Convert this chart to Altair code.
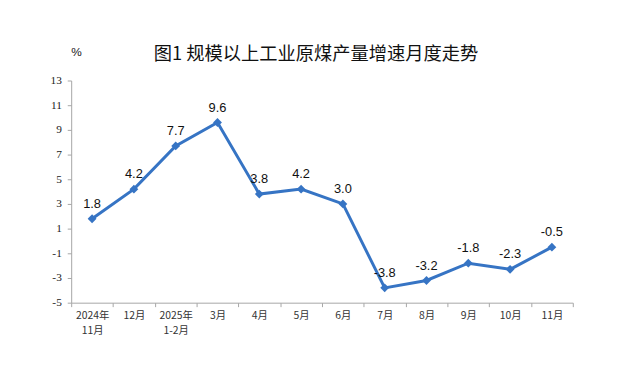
import altair as alt
import pandas as pd

months = ["2024年|11月", "12月", "2025年|1-2月", "3月", "4月", "5月", "6月", "7月", "8月", "9月", "10月", "11月"]
values = [1.8, 4.2, 7.7, 9.6, 3.8, 4.2, 3.0, -3.8, -3.2, -1.8, -2.3, -0.5]
y_ticks = [-5, -3, -1, 1, 3, 5, 7, 9, 11, 13]
title_text = "图1  规模以上工业原煤产量增速月度走势"

df = pd.DataFrame({"month": months, "value": values})
df["label"] = df["value"].map(lambda v: f"{v:.1f}")

x = alt.X("month:N", sort=months, title=None,
          scale=alt.Scale(paddingInner=0, paddingOuter=0),
          axis=alt.Axis(labelExpr="split(datum.label, '|')", labelAngle=0,
                        labelFont="Noto Sans CJK SC", labelFontSize=10.5, labelColor="#333333",
                        labelLineHeight=15, labelPadding=4,
                        domainColor="#a6a6a6", tickColor="#a6a6a6", tickSize=4,
                        tickBand="extent", grid=False))
y = alt.Y("value:Q", title="%",
          scale=alt.Scale(domain=[-5, 13], nice=False, zero=False),
          axis=alt.Axis(values=y_ticks, labelExpr="toString(datum.value)",
                        labelFont="Liberation Serif", labelFontSize=11.5,
                        labelColor="#222222", labelPadding=6,
                        domainColor="#a6a6a6", tickColor="#a6a6a6", tickSize=4, grid=False,
                        titleAngle=0, titleX=5, titleY=-22, titleFont="Liberation Sans",
                        titleFontWeight="normal", titleFontSize=12, titleColor="#222222"))

base = alt.Chart(df)
line = base.mark_line(color="#3674c4", strokeWidth=3).encode(x=x, y=y)
pts = base.mark_point(shape="diamond", filled=True, size=80, color="#3674c4", opacity=1).encode(x=x, y=y)
labels = base.mark_text(dy=-15, font="Liberation Sans", fontSize=13, color="#111111").encode(
    x=x, y=y, text="label:N")
title = alt.Chart(pd.DataFrame({"t": [title_text]})).mark_text(
    font="Noto Sans CJK SC", fontSize=18.5, color="#111111", baseline="middle", align="center"
).encode(x=alt.value(248), y=alt.value(-27), text="t:N")

chart = alt.layer(line, pts, labels, title).properties(
    width=508, height=225,
    padding={"left": 64, "top": 71, "right": 63, "bottom": 87},
    autosize=alt.AutoSizeParams(type="none"),
).configure_view(stroke=None)

chart.save("out.html", embed_options={"renderer": "svg", "actions": False})
